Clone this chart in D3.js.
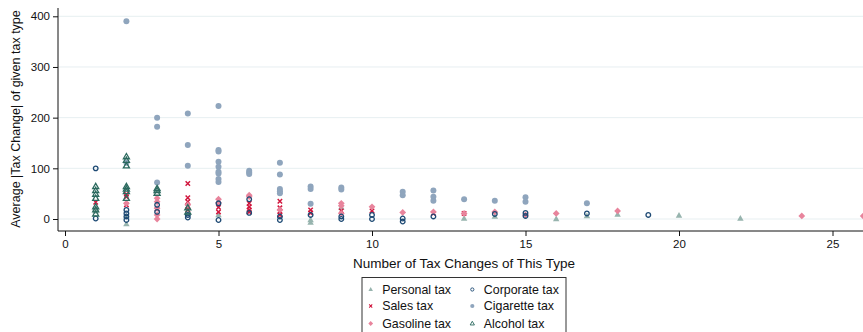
<!DOCTYPE html>
<html>
<head>
<meta charset="utf-8">
<script src="https://cdn.jsdelivr.net/npm/d3@7"></script>
<style>
  html, body { margin: 0; padding: 0; background: #fff; }
  svg { display: block; font-family: "Liberation Sans", Arial, Helvetica, sans-serif; }
</style>
</head>
<body>
<svg id="chart" width="863" height="332"></svg>
<script>
// Each point: [number of tax changes of this type, average |tax change|]
const personalTax = [[1,15],[1,20],[2,-10],[2,5],[4,10],[5,8],[8,-2],[8,-7],[9,23],[13,1],[14,5],[16,0],[17,6],[18,9],[20,7],[22,1]];
const salesTax = [[1,33],[2,49],[2,44],[2,28],[3,20],[4,70],[4,42],[4,34],[4,25],[4,18],[5,23],[5,14],[6,31],[6,24],[6,18],[6,14],[7,35],[7,22],[7,15],[7,8],[8,18],[8,12],[9,16],[10,16],[12,11],[13,11]];
const gasolineTax = [[2,31],[3,41],[3,34],[3,21],[3,8],[3,0],[4,28],[5,39],[5,32],[6,47],[6,44],[7,18],[9,31],[9,26],[9,11],[10,24],[11,13],[12,14],[13,11],[14,14],[15,8],[16,11],[18,16],[24,6],[26,6]];
const corporateTax = [[1,100],[1,1],[2,18],[2,11],[2,5],[2,-2],[3,28],[3,14],[4,8],[4,3],[5,31],[5,-2],[6,39],[6,12],[7,5],[7,-2],[8,8],[9,5],[9,0],[10,8],[10,0],[11,1],[11,-5],[12,5],[14,10],[15,12],[15,6],[17,11],[19,8]];
const cigaretteTax = [[2,390],[2,111],[3,200],[3,182],[3,72],[4,208],[4,146],[4,105],[5,223],[5,136],[5,133],[5,113],[5,103],[5,93],[5,90],[5,79],[5,73],[6,95],[6,92],[6,89],[7,111],[7,88],[7,59],[7,55],[7,51],[8,64],[8,59],[8,30],[9,62],[9,58],[11,54],[11,47],[12,56],[12,44],[12,36],[13,39],[14,36],[15,43],[15,34],[17,31]];
const alcoholTax = [[1,64],[1,56],[1,49],[1,41],[1,24],[1,18],[1,10],[2,123],[2,116],[2,105],[2,64],[2,59],[2,54],[2,41],[3,60],[3,56],[3,51],[4,22],[4,14]];

const xTicks = [0, 5, 10, 15, 20, 25];
const yTicks = [0, 100, 200, 300, 400];

const colors = {
  personal: "#97b4ae",
  sales: "#d1173e",
  gasoline: "#e8849c",
  corporate: "#1e4a74",
  cigarette: "#8fa5bd",
  alcohol: "#2c6a5f"
};

const svg = d3.select("#chart");
const x = d3.scaleLinear().domain([0, 26]).range([65, 863.2]);
const y = d3.scaleLinear().domain([0, 400]).range([219, 16.3]);
const axisLeftX = 58, axisBottomY = 231;

// grid lines
svg.append("g").selectAll("line").data(yTicks).join("line")
  .attr("x1", axisLeftX).attr("x2", 863)
  .attr("y1", d => y(d)).attr("y2", d => y(d))
  .attr("stroke", "#e7eff1").attr("stroke-width", 1);

// axes
const yAxis = svg.append("g").attr("transform", `translate(${axisLeftX},0)`)
  .call(d3.axisLeft(y).tickValues(yTicks).tickSize(5).tickPadding(3));
yAxis.select(".domain").attr("d", `M0,${axisBottomY}V8`);
const xAxis = svg.append("g").attr("transform", `translate(0,${axisBottomY})`)
  .call(d3.axisBottom(x).tickValues(xTicks).tickSize(5).tickPadding(4));
xAxis.select(".domain").attr("d", `M${axisLeftX},0H863`);
svg.selectAll(".tick text").attr("font-size", 11.5).attr("fill", "#111")
  .attr("font-family", "'Liberation Sans', Arial, sans-serif");
svg.selectAll(".domain, .tick line").attr("stroke", "#111");

// axis titles
svg.append("text").attr("x", 464).attr("y", 268).attr("text-anchor", "middle")
  .attr("font-size", 13.5).attr("fill", "#111").text("Number of Tax Changes of This Type");
svg.append("text").attr("transform", "translate(20,119) rotate(-90)").attr("text-anchor", "middle")
  .attr("font-size", 12.5).attr("fill", "#111").text("Average |Tax Change| of given tax type");

// marker drawing helpers
const tri = (s) => `M0,${-s}L${s*0.95},${s*0.65}L${-s*0.95},${s*0.65}Z`;
const diamond = (s) => `M0,${-s}L${s},0L0,${s}L${-s},0Z`;
const cross = (s) => `M${-s},${-s}L${s},${s}M${-s},${s}L${s},${-s}`;

function marker(g, kind, scale) {
  const k = scale || 1;
  switch (kind) {
    case "personal":
      g.append("path").attr("d", tri(3.4 * k)).attr("fill", colors.personal); break;
    case "sales":
      g.append("path").attr("d", cross(2.2 * k)).attr("stroke", colors.sales).attr("stroke-width", 1.5 * k).attr("fill", "none"); break;
    case "gasoline":
      g.append("path").attr("d", diamond(3.4 * k)).attr("fill", colors.gasoline); break;
    case "corporate":
      g.append("circle").attr("r", 2.3 * k).attr("fill", "none").attr("stroke", colors.corporate).attr("stroke-width", 1.3 * k); break;
    case "cigarette":
      g.append("circle").attr("r", 3 * k).attr("fill", colors.cigarette); break;
    case "alcohol":
      g.append("path").attr("d", tri(3.2 * k)).attr("fill", "none").attr("stroke", colors.alcohol).attr("stroke-width", 1.3 * k); break;
  }
}

const series = [
  ["personal", personalTax, "Personal tax"],
  ["sales", salesTax, "Sales tax"],
  ["gasoline", gasolineTax, "Gasoline tax"],
  ["corporate", corporateTax, "Corporate tax"],
  ["cigarette", cigaretteTax, "Cigarette tax"],
  ["alcohol", alcoholTax, "Alcohol tax"]
];

const plot = svg.append("g");
series.forEach(([kind, pts]) => {
  plot.append("g").selectAll("g").data(pts).join("g")
    .attr("transform", d => `translate(${x(d[0])},${y(d[1])})`)
    .each(function () { marker(d3.select(this), kind, 1); });
});

// legend
const legend = svg.append("g");
legend.append("rect").attr("x", 362).attr("y", 277.5).attr("width", 204).attr("height", 62)
  .attr("fill", "#fff").attr("stroke", "#333").attr("stroke-width", 1);
series.forEach(([kind, , label], i) => {
  const col = Math.floor(i / 3), row = i % 3;
  const mx = col === 0 ? 370.7 : 472.3;
  const my = [289.5, 306, 323.5][row];
  const g = legend.append("g").attr("transform", `translate(${mx},${my})`);
  marker(g, kind, 0.7);
  legend.append("text").attr("x", mx + 11.5).attr("y", my + 4.3).attr("font-size", 12.4)
    .attr("fill", "#111").text(label);
});
</script>
</body>
</html>
